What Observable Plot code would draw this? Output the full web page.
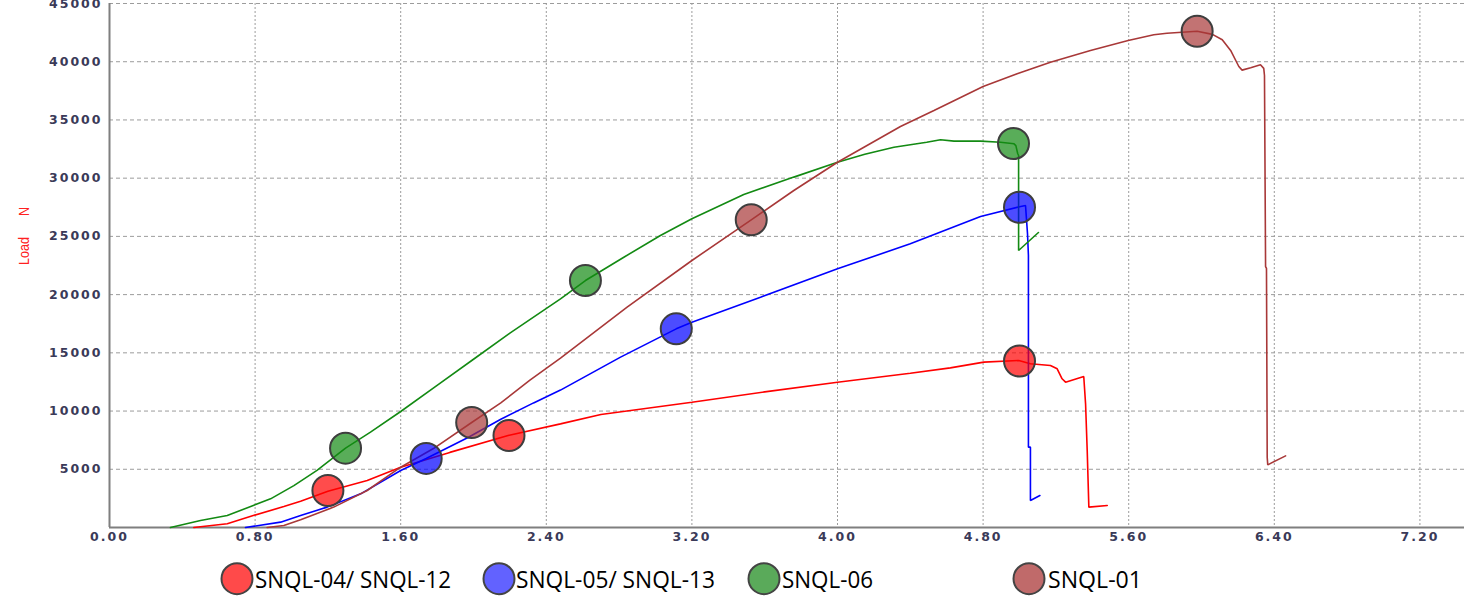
<!DOCTYPE html>
<html>
<head>
<meta charset="utf-8">
<script src="https://cdn.jsdelivr.net/npm/d3@7"></script>
<script src="https://cdn.jsdelivr.net/npm/@observablehq/plot@0.6"></script>
<style>
  html, body { margin: 0; padding: 0; background: #fff; }
  #chart svg { display: block; }
</style>
</head>
<body>
<div id="chart"></div>
<script>
// ---------- data ----------
const xTicks = [0, 0.8, 1.6, 2.4, 3.2, 4.0, 4.8, 5.6, 6.4, 7.2];
const yTicks = [5000, 10000, 15000, 20000, 25000, 30000, 35000, 40000, 45000];

const seriesNames = ["SNQL-04/ SNQL-12", "SNQL-05/ SNQL-13", "SNQL-06", "SNQL-01"];
const lineColors  = ["#ff0000", "#0000ff", "#138a13", "#a83838"];
const dotColors   = ["#ff4a4a", "#6262ff", "#5aaa5a", "#c06a6a"];

const redX = [0.463, 0.647, 0.79, 0.958, 1.05, 1.20, 1.416, 1.60, 1.87, 2.19, 2.478, 2.70, 3.20, 3.60, 4.0, 4.40, 4.62, 4.804, 4.996, 5.06, 5.17, 5.207, 5.234, 5.253, 5.353, 5.363, 5.372, 5.381, 5.482];
const redY = [0, 320, 1030, 1800, 2250, 3120, 4040, 5180, 6450, 7900, 8900, 9700, 10760, 11650, 12480, 13250, 13710, 14200, 14340, 14060, 13910, 13630, 12770, 12480, 12970, 10620, 6610, 1750, 1890];

const blueX = [0.747, 0.94, 1.05, 1.196, 1.38, 1.60, 1.74, 1.97, 2.15, 2.33, 2.478, 2.808, 3.114, 3.20, 3.577, 4.0, 4.40, 4.786, 5.0, 5.033, 5.044, 5.049, 5.049, 5.06, 5.06, 5.112];
const blueY = [0, 460, 1030, 1750, 2890, 4900, 5930, 7730, 9300, 10700, 11800, 14630, 17060, 17630, 19780, 22220, 24360, 26710, 27550, 27650, 25220, 23360, 6900, 6900, 2320, 2750];

const greenX = [0.335, 0.50, 0.647, 0.79, 0.885, 1.013, 1.14, 1.297, 1.434, 1.60, 1.80, 2.00, 2.20, 2.478, 2.615, 2.826, 3.027, 3.20, 3.485, 3.76, 4.0, 4.15, 4.31, 4.49, 4.566, 4.64, 4.786, 4.896, 4.97, 4.98, 4.99, 4.995, 4.995, 5.104];
const greenY = [0, 600, 1030, 1890, 2460, 3600, 4900, 6810, 8190, 9960, 12200, 14450, 16700, 19640, 21210, 23210, 25080, 26510, 28600, 30090, 31370, 32050, 32660, 33090, 33300, 33180, 33180, 33090, 32950, 32800, 32120, 31950, 23790, 25335];

const brownX = [0.866, 0.958, 1.05, 1.232, 1.416, 1.60, 1.78, 1.99, 2.15, 2.31, 2.478, 2.844, 3.20, 3.526, 3.76, 4.0, 4.346, 4.53, 4.80, 4.987, 5.17, 5.39, 5.597, 5.738, 5.81, 5.976, 6.06, 6.114, 6.16, 6.205, 6.223, 6.27, 6.324, 6.342, 6.346, 6.352, 6.357, 6.361, 6.364, 6.462];
const brownY = [0, 170, 660, 1750, 3180, 5180, 6780, 9020, 10700, 12650, 14550, 18920, 22930, 26420, 28940, 31370, 34440, 35810, 37870, 38960, 39960, 40960, 41820, 42310, 42450, 42620, 42350, 41890, 40970, 39590, 39280, 39490, 39740, 39430, 38820, 22410, 22250, 6010, 5380, 6150];

const redMX = [1.20, 2.195, 5.0],   redMY = [3180, 7900, 14300];
const blueMX = [1.74, 3.114, 5.0],  blueMY = [5930, 17060, 27500];
const greenMX = [1.297, 2.615, 4.967], greenMY = [6810, 21210, 32980];
const brownMX = [1.99, 3.526, 5.976], brownMY = [9020, 26420, 42620];

const yLabel = "Load\u00a0\u00a0\u00a0\u00a0\u00a0\u00a0N";

// ---------- build tables ----------
const curves = [[redX, redY], [blueX, blueY], [greenX, greenY], [brownX, brownY]]
  .flatMap(([xs, ys], i) => xs.map((x, j) => ({series: seriesNames[i], x, y: ys[j]})));
const markers = [[redMX, redMY], [blueMX, blueMY], [greenMX, greenMY], [brownMX, brownMY]]
  .flatMap(([xs, ys], i) => xs.map((x, j) => ({series: seriesNames[i], x, y: ys[j]})));

const colorScale = {domain: seriesNames, range: lineColors};

const tickStyle = {fontSize: 12.5, fontWeight: "bold", fill: "#3a3a58"};

const chart = Plot.plot({
  width: 1464,
  height: 555,
  marginLeft: 109,
  marginRight: 0,
  marginTop: 3,
  marginBottom: 28,
  style: {background: "#fff", fontFamily: "'DejaVu Sans', sans-serif", overflow: "visible"},
  x: {domain: [0, 7.445]},
  y: {domain: [0, 45000]},
  color: colorScale,
  marks: [
    Plot.gridY(yTicks, {stroke: "#9c9c9c", strokeOpacity: 1, strokeDasharray: "4 3"}),
    Plot.gridX(xTicks.slice(1), {stroke: "#9c9c9c", strokeOpacity: 1, strokeDasharray: "2 2"}),
    Plot.ruleX([0], {stroke: "#7f7f7f", strokeWidth: 2}),
    Plot.ruleY([0], {stroke: "#7f7f7f", strokeWidth: 2}),
    Plot.axisY(yTicks, {tickSize: 0, tickPadding: 7, label: null, tickFormat: d => String(d), ...tickStyle}),
    Plot.axisX(xTicks, {tickSize: 0, tickPadding: 5, label: null, tickFormat: d => d.toFixed(2), ...tickStyle}),
    Plot.line(curves, {x: "x", y: "y", z: "series", stroke: "series", strokeWidth: 1.6, strokeLinejoin: "miter"}),
    Plot.dot(markers, {x: "x", y: "y", r: 15.5, fill: "series", fillOpacity: 0.7, stroke: "#3e3e3e", strokeWidth: 2})
  ]
});

d3.select(chart).selectAll("[aria-label='y-axis tick label'] text, [aria-label='x-axis tick label'] text")
  .style("letter-spacing", "2px");

// rotated axis title at the left, as in the reference
d3.select(chart).append("text")
  .attr("transform", "translate(29,236) rotate(-90)")
  .attr("text-anchor", "middle")
  .attr("fill", "#ff2020")
  .attr("font-family", "'Liberation Sans', Arial, sans-serif")
  .attr("font-size", 14)
  .attr("textLength", 58).attr("lengthAdjust", "spacingAndGlyphs")
  .text(yLabel);

document.getElementById("chart").appendChild(chart);

// ---------- legend below ----------
const legendItems = [
  {name: seriesNames[0], fill: dotColors[0], cx: 237, tx: 255, tw: 196},
  {name: seriesNames[1], fill: dotColors[1], cx: 499, tx: 516, tw: 199},
  {name: seriesNames[2], fill: dotColors[2], cx: 764, tx: 782, tw: 91},
  {name: seriesNames[3], fill: dotColors[3], cx: 1029, tx: 1048, tw: 94}
];
const leg = d3.select("#chart").append("svg")
  .attr("width", 1464).attr("height", 45)
  .attr("font-family", "'Open Sans', 'Noto Sans', sans-serif");
const g = leg.selectAll("g").data(legendItems).join("g");
g.append("circle").attr("cx", d => d.cx).attr("cy", 23.7).attr("r", 15.5)
  .attr("fill", d => d.fill).attr("stroke", "#444").attr("stroke-width", 2);
g.append("text").attr("x", d => d.tx).attr("y", 33.3)
  .attr("font-size", 23.5).attr("fill", "#000")
  .attr("textLength", d => d.tw).attr("lengthAdjust", "spacingAndGlyphs")
  .text(d => d.name);
</script>
</body>
</html>
